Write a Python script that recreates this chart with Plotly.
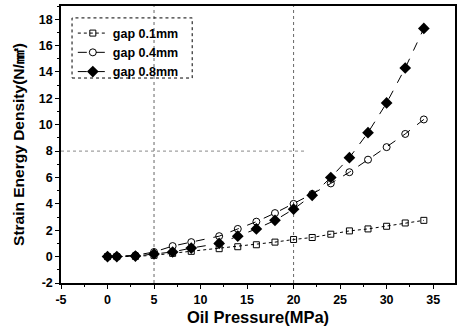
import plotly.graph_objects as go

pressure = [0, 1, 3, 5, 7, 9, 12, 14, 16, 18, 20, 22, 24, 26, 28, 30, 32, 34]
gap_01 = [0, 0, 0.02, 0.1, 0.25, 0.4, 0.6, 0.75, 0.9, 1.1, 1.3, 1.45, 1.7, 1.95, 2.1, 2.3, 2.55, 2.75]
gap_04 = [0, 0.02, 0.1, 0.35, 0.8, 1.1, 1.55, 2.1, 2.65, 3.3, 4.0, 4.75, 5.55, 6.4, 7.35, 8.3, 9.3, 10.4]
gap_08 = [0, 0, 0.04, 0.2, 0.35, 0.65, 1.0, 1.55, 2.1, 2.75, 3.6, 4.65, 6.0, 7.5, 9.4, 11.65, 14.3, 17.3]
names = ["gap 0.1mm", "gap 0.4mm", "gap 0.8mm"]
x_ticks = [-5, 0, 5, 10, 15, 20, 25, 30, 35]
x_ticktext = ["-5", "0", "5", "10", "15", "20", "25", "30", "35"]
y_ticks = [-2, 0, 2, 4, 6, 8, 10, 12, 14, 16, 18]
y_ticktext = ["-2", "0", "2", "4", "6", "8", "10", "12", "14", "16", "18"]

FONT = "Liberation Sans, Arial"

fig = go.Figure()
fig.add_trace(go.Scatter(x=pressure, y=gap_01, name=names[0], mode="lines+markers",
                         line=dict(color="black", width=1, dash="dot"),
                         marker=dict(symbol="square-open", size=6, color="black", line=dict(width=1))))
fig.add_trace(go.Scatter(x=pressure, y=gap_04, name=names[1], mode="lines+markers",
                         line=dict(color="black", width=1, dash="dash"),
                         marker=dict(symbol="circle-open", size=7, color="black", line=dict(width=1))))
fig.add_trace(go.Scatter(x=pressure, y=gap_08, name=names[2], mode="lines+markers",
                         line=dict(color="black", width=1, dash="dash"),
                         marker=dict(symbol="diamond", size=9, color="black")))

# faint dotted guide lines seen in the reference
for xv in [5, 20]:
    fig.add_shape(type="line", xref="x", yref="paper", x0=xv, x1=xv, y0=0, y1=1,
                  line=dict(color="#666", width=1, dash="dot"), layer="below")
fig.add_shape(type="line", xref="paper", yref="y", x0=0, x1=0.62, y0=8, y1=8,
              line=dict(color="#888", width=1, dash="dot"), layer="below")
# dotted legend frame
fig.add_shape(type="rect", xref="paper", yref="paper", x0=0.028, x1=0.333, y0=0.74, y1=0.957,
              line=dict(color="black", width=1, dash="dot"))

def axis_common(minor_dtick):
    return dict(showline=True, linecolor="black", linewidth=1.5, mirror=True,
                ticks="outside", ticklen=4, tickwidth=1.2, tickcolor="black",
                showgrid=False, zeroline=False,
                tickfont=dict(family=FONT, size=12.5, color="black", weight="bold"),
                minor=dict(ticks="outside", ticklen=2, tickcolor="black", dtick=minor_dtick))

fig.update_layout(
    width=461, height=333,
    margin=dict(l=61, r=4, t=5, b=50),
    paper_bgcolor="white", plot_bgcolor="white",
    xaxis=dict(range=[-5, 37.35], tickvals=x_ticks, ticktext=x_ticktext,
               title=dict(text="Oil Pressure(MPa)", standoff=6,
                          font=dict(family=FONT, size=16.5, color="black", weight="bold")),
               **axis_common(2.5)),
    yaxis=dict(range=[-2, 19], tickvals=y_ticks, ticktext=y_ticktext,
               title=dict(text="Strain Energy Density(N/㎟)", standoff=10,
                          font=dict(family=FONT, size=15.5, color="black", weight="bold")),
               **axis_common(1)),
    legend=dict(x=0.03, y=0.955, xanchor="left", yanchor="top", bgcolor="rgba(0,0,0,0)",
                borderwidth=0, tracegroupgap=0, itemwidth=30,
                font=dict(family=FONT, size=12.5, color="black", weight="bold")),
    showlegend=True,
)

fig.write_html("out.html", post_script="document.body.style.margin='0';",
               config={"displayModeBar": False})
